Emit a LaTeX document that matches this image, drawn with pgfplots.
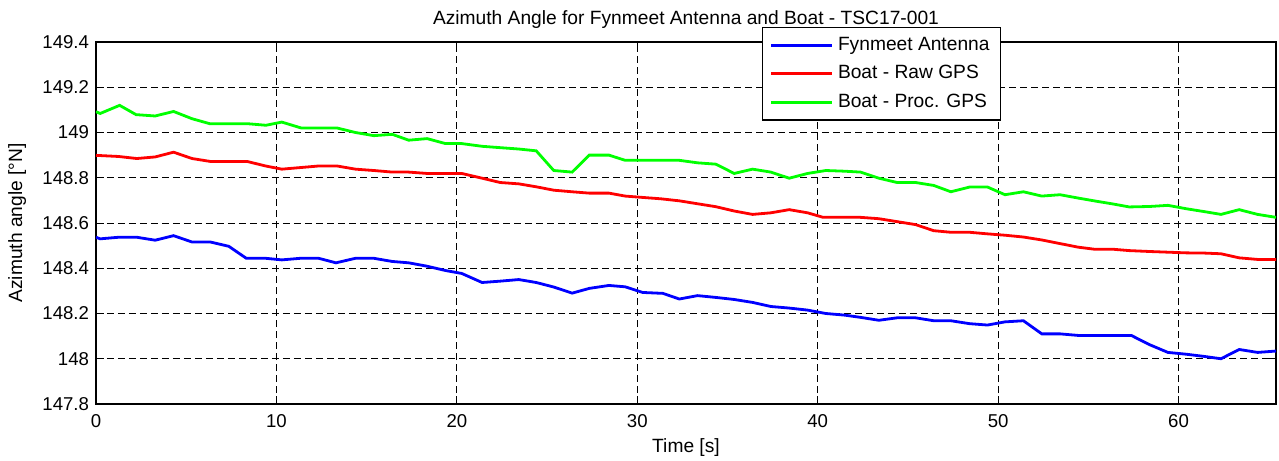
\documentclass[border=0pt]{standalone}
\usepackage{pgfplots}
\pgfplotsset{compat=1.18}
\usepackage{fontspec}
\setmainfont{Liberation Sans}
\usetikzlibrary{calc}
\definecolor{mblue}{RGB}{0,0,255}
\definecolor{mred}{RGB}{255,0,0}
\definecolor{mgreen}{RGB}{0,255,0}
\begin{document}
\begin{tikzpicture}
\begin{axis}[
  name=ax,
  scale only axis,
  width=590bp, height=181bp,
  xmin=0, xmax=65.4,
  ymin=147.8, ymax=149.4,
  xtick={0,10,20,30,40,50,60},
  ytick={147.8,148,148.2,148.4,148.6,148.8,149,149.2,149.4},
  yticklabels={147.8,148,148.2,148.4,148.6,148.8,149,149.2,149.4},
  /pgf/number format/assume math mode=true,
  tick label style={font=\fontsize{9.3bp}{11bp}\selectfont},
  xticklabel style={yshift=-1.5bp},
  label style={font=\fontsize{9.6bp}{11bp}\selectfont},
  title style={font=\fontsize{9.6bp}{11bp}\selectfont, at={(axis description cs:0.5,1.0166)}, anchor=base},
  title={Azimuth Angle for Fynmeet Antenna and Boat - TSC17-001},
  xlabel={Time [s]},
  ylabel={Azimuth angle [\textdegree N]},
  xlabel style={at={(axis description cs:0.5,-0.1326)}, anchor=base},
  ylabel style={at={(axis description cs:-0.0669,0.5)}, anchor=center},
  axis line style={line width=0.75bp, black},
  tick align=inside,
  major tick length=4bp,
  tick style={line width=0.5bp, black},
  grid=major,
  major grid style={dash pattern=on 3.5bp off 2bp, line width=0.4bp, black},
  legend cell align=left,
  legend style={at={(axis description cs:0.5644,1.0414)}, anchor=north west,
    font=\fontsize{9.6bp}{11bp}\selectfont, draw=black, line width=0.6bp, fill=white,
    inner xsep=3.5bp, inner ysep=1.8bp, column sep=0.3bp,
    nodes={inner xsep=2bp, inner ysep=2.6bp, text height=7bp, text depth=2bp}},
  legend image code/.code={\draw[#1, line width=1.4bp] (0bp,0bp) -- (30.5bp,0bp);},
  every axis plot/.append style={line width=1.4bp},
]
\addplot[mblue] coordinates {
(0,148.537) (0.23,148.53) (1.25,148.537) (2.26,148.537) (3.28,148.524) (4.3,148.544) (5.32,148.516) (6.34,148.516) (7.36,148.497) (8.33,148.444) (9.4,148.444) (10.3,148.437) (11.33,148.444) (12.34,148.444) (13.3,148.424) (14.38,148.444) (15.4,148.444) (16.42,148.43) (17.33,148.424) (18.35,148.409) (19.37,148.39) (20.27,148.377) (21.4,148.337) (22.4,148.343) (23.43,148.35) (24.4,148.337) (25.37,148.317) (26.39,148.29) (27.34,148.311) (28.43,148.324) (29.33,148.318) (30.3,148.293) (31.42,148.289) (32.33,148.264) (33.34,148.279) (34.36,148.271) (35.37,148.262) (36.39,148.249) (37.4,148.231) (38.42,148.224) (39.44,148.215) (40.45,148.2) (41.47,148.193) (42.37,148.183) (43.39,148.17) (44.4,148.181) (45.42,148.181) (46.43,148.168) (47.38,148.168) (48.42,148.155) (49.41,148.149) (50.38,148.163) (51.4,148.168) (52.42,148.11) (53.43,148.11) (54.45,148.103) (55.46,148.103) (56.37,148.103) (57.38,148.103) (58.4,148.062) (59.41,148.028) (60.43,148.02) (61.45,148.01) (62.35,148.0) (63.36,148.041) (64.38,148.028) (65.4,148.034)
};
\addlegendentry{Fynmeet Antenna}
\addplot[mred] coordinates {
(0,148.899) (1.25,148.894) (2.26,148.885) (3.28,148.892) (4.3,148.913) (5.32,148.885) (6.34,148.872) (8.38,148.872) (9.4,148.852) (10.3,148.838) (11.33,148.845) (12.34,148.852) (13.36,148.852) (14.38,148.838) (15.4,148.832) (16.42,148.825) (17.33,148.825) (18.35,148.819) (20.27,148.819) (21.4,148.798) (22.4,148.779) (23.43,148.773) (24.4,148.76) (25.37,148.745) (26.39,148.738) (27.34,148.732) (28.43,148.732) (29.33,148.719) (30.3,148.713) (31.3,148.707) (32.33,148.698) (33.34,148.685) (34.36,148.672) (35.37,148.653) (36.39,148.638) (37.4,148.645) (38.42,148.659) (39.44,148.645) (40.3,148.625) (41.47,148.625) (42.37,148.625) (43.39,148.619) (44.4,148.606) (45.42,148.593) (46.43,148.566) (47.38,148.559) (48.42,148.559) (49.41,148.552) (50.38,148.546) (51.4,148.538) (52.42,148.525) (53.43,148.509) (54.45,148.493) (55.35,148.484) (56.37,148.484) (57.27,148.478) (58.4,148.474) (59.41,148.471) (60.43,148.468) (61.45,148.467) (62.35,148.464) (63.36,148.446) (64.38,148.439) (65.4,148.439)
};
\addlegendentry{Boat - Raw GPS}
\addplot[mgreen] coordinates {
(0,149.092) (0.23,149.084) (1.31,149.12) (2.22,149.079) (3.28,149.073) (4.3,149.093) (5.32,149.061) (6.3,149.039) (8.38,149.039) (9.42,149.032) (10.3,149.046) (11.37,149.02) (13.36,149.02) (14.38,149.0) (15.4,148.986) (16.42,148.992) (17.33,148.966) (18.35,148.973) (19.37,148.951) (20.27,148.951) (21.4,148.939) (22.4,148.933) (23.43,148.927) (24.4,148.919) (25.37,148.832) (26.39,148.825) (27.34,148.9) (28.43,148.9) (29.33,148.877) (32.33,148.877) (33.34,148.866) (34.36,148.86) (35.37,148.819) (36.39,148.838) (37.4,148.825) (38.42,148.798) (39.44,148.819) (40.45,148.832) (41.47,148.829) (42.37,148.825) (43.39,148.798) (44.4,148.779) (45.42,148.779) (46.43,148.766) (47.38,148.738) (48.42,148.759) (49.41,148.759) (50.38,148.725) (51.4,148.738) (52.42,148.719) (53.43,148.725) (54.45,148.71) (55.46,148.696) (56.37,148.684) (57.27,148.671) (58.4,148.673) (59.41,148.678) (60.43,148.663) (61.45,148.65) (62.35,148.638) (63.36,148.659) (64.38,148.638) (65.4,148.625)
};
\addlegendentry{Boat - Proc. GPS}
\end{axis}
\pgfresetboundingbox
\path ($(ax.south west)+(-48bp,-28.5bp)$) rectangle ($(ax.north east)+(1.5bp,21bp)$);
\end{tikzpicture}
\end{document}
